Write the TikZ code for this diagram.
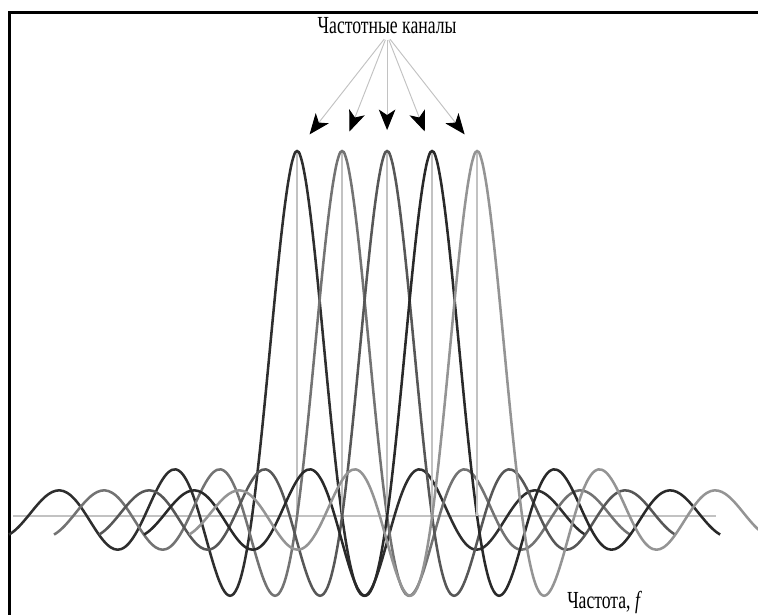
\documentclass[tikz,border=0pt]{standalone}
\usepackage{fontspec}
\newfontfamily\labelfont{Liberation Serif}[FakeStretch=0.72]
\usetikzlibrary{arrows.meta}

\definecolor{guide}{gray}{0.76}
\definecolor{chanA}{gray}{0.18}
\definecolor{chanB}{gray}{0.45}
\definecolor{chanC}{gray}{0.34}
\definecolor{chanD}{gray}{0.16}
\definecolor{chanE}{gray}{0.58}

\tikzset{
  channel/.style={line width=1.6pt},
  guideline/.style={guide, line width=0.9pt},
  label/.style={font=\labelfont\fontsize{15.5}{17}\selectfont, inner sep=1pt},
  pointer/.style={guide, line width=0.6pt, shorten <=3pt, shorten >=0.45cm,
    -{Stealth[length=13pt, width=10.5pt, inset=3.5pt, color=black]}}
}

\begin{document}
\begin{tikzpicture}
    \useasboundingbox (-8.6,-2.18) rectangle (8.24,11.47);

    % рамка
    \draw[line width=2pt] (-8.38,-2.4) -- (-8.38,11.19) -- (8.5,11.19);

    % ось частот
    \draw[guide, line width=1.3pt] (-8.31,0) -- (7.31,0);

    \node[label, anchor=base] (title) at (0,10.73) {Частотные каналы};
    \node[label, anchor=base west] (axis) at (3.96,-2.04) {Частота, \textit{f}};

    % поднесущие
    \foreach \c/\col [count=\i] in {-2/chanA, -1/chanB, 0/chanC, 1/chanD, 2/chanE} {
        \coordinate (peak\i) at (\c,8.13);
        \draw[guideline] (peak\i) -- (\c,0);
        \draw[channel, \col, shift={(\c,0)}] plot[smooth, domain=-6.4:6.4, samples=160]
            (\x, {8.13*sin(180*abs(\x)^0.9)/(pi*abs(\x)^0.9)});
        \draw[pointer] (title.south) -- (peak\i);
    }
\end{tikzpicture}
\end{document}
